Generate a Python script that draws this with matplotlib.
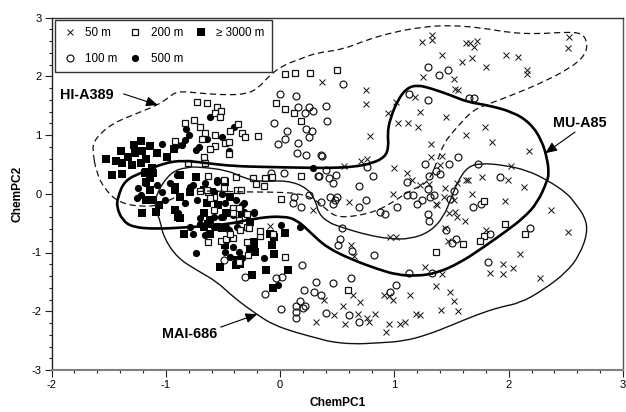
import matplotlib
matplotlib.use("Agg")
import matplotlib.pyplot as plt
from matplotlib.path import Path
from matplotlib.patches import PathPatch

plt.rcParams['font.family'] = ['Liberation Sans', 'DejaVu Sans']
plt.rcParams['axes.unicode_minus'] = False

x_50 = [2.53,2.52,1.33,1.33,1.24,1.63,1.66,1.72,1.70,1.42,1.59,1.68,1.80,1.98,2.08,2.16,2.16,1.25,1.52,1.53,1.56,0.37,0.75,0.75,1.01,1.18,0.94,1.22,1.03,1.12,1.21,1.45,0.79,1.79,1.63,1.85,1.32,2.18,1.32,1.42,0.76,0.71,0.56,1.00,1.11,1.40,2.02,1.77,1.99,2.13,1.64,1.63,1.55,1.15,1.22,1.30,0.99,0.60,1.44,1.43,1.68,1.52,1.97,1.36,1.37,2.37,
        2.52,1.48,1.53,1.55,1.62,1.44,1.80,1.47,0.96,1.01,0.62,0.65,2.10,1.95,2.04,1.27,1.42,1.84,1.95,2.27,1.36,1.49,1.52,1.56,1.41,1.14,0.99,0.91,0.95,0.64,0.70,0.55,0.38,0.47,0.68,0.76,0.83,0.78,0.57,0.31,0.95,0.93,1.05,1.09,1.19,1.22,0.29,-0.09]
y_50 = [2.66,2.48,2.70,2.61,2.59,2.56,2.57,2.60,2.49,2.36,2.24,2.31,2.16,2.36,2.32,2.11,2.04,1.99,1.95,1.78,1.77,1.90,1.76,1.53,1.57,1.65,1.38,1.39,1.20,1.21,1.13,1.30,0.99,1.14,1.00,0.875,0.85,0.73,0.63,0.65,0.60,0.55,0.48,0.43,0.36,0.49,0.47,0.29,0.23,0.11,0.23,0.24,0.19,0.23,0.15,0.16,-0.01,-0.14,0.09,-0.05,-0.01,-0.11,-0.12,-0.18,-0.19,-0.27,
        -0.65,-0.32,-0.31,-0.40,-0.46,-0.59,-0.62,-0.80,-0.74,-0.73,-0.875,-1.06,-1.02,-1.19,-1.26,-1.24,-1.36,-1.35,-1.36,-1.43,-1.57,-1.68,-1.83,-1.99,-1.98,-1.72,-1.80,-1.72,-1.74,-1.72,-1.85,-1.91,-1.80,-2.07,-2.04,-2.11,-2.04,-2.19,-2.22,-2.19,-2.22,-2.35,-2.21,-2.19,-2.04,-2.07,-0.28,-0.55]

x_100 = [0.0,0.14,0.16,0.25,0.29,0.22,-0.05,0.06,0.23,0.28,0.25,0.04,-0.02,0.16,0.15,0.23,0.36,0.03,0.33,-0.08,0.12,0.11,0.18,0.25,
         1.29,1.39,1.47,0.55,1.13,1.29,1.65,1.70,0.40,0.41,0.37,1.56,1.27,1.48,1.73,1.40,1.36,1.30,1.11,0.76,0.81,0.40,0.34,0.43,0.49,0.46,0.69,1.92,1.29,1.35,1.31,1.52,1.49,1.11,1.16,1.24,1.20,0.44,0.50,0.48,0.46,0.36,0.75,0.69,1.02,1.69,1.76,
         0.87,0.92,1.29,1.30,0.54,0.52,0.51,0.63,0.82,1.45,1.54,1.50,1.84,2.19,1.82,1.13,1.33,1.01,0.96,0.31,0.46,0.62,0.30,0.36,0.40,0.60,0.69,
         -0.49,-0.36,-0.31,-0.04,0.02,0.19,0.21,-0.13,0.17,0.14,0.20,0.22,0.01,0.14,0.14]
y_100 = [1.70,1.66,1.48,1.47,1.41,1.37,1.21,1.07,1.10,1.06,0.96,0.93,0.84,0.86,0.69,0.66,0.66,0.36,0.30,0.36,-0.05,-0.15,-0.23,-0.02,
         2.16,2.02,2.11,1.86,1.70,1.60,1.63,1.63,1.49,1.24,0.65,0.62,0.50,0.50,0.51,0.34,0.39,0.31,0.20,0.45,0.30,0.40,0.30,0.26,0.32,0.18,0.125,0.29,0.08,-0.02,-0.05,0.05,-0.09,-0.02,-0.02,-0.11,-0.18,-0.05,-0.05,-0.11,-0.18,-0.14,-0.11,-0.22,-0.22,-0.22,-0.18,
         -0.31,-0.35,-0.35,-0.46,-0.58,-0.77,-0.875,-0.98,-1.05,-0.625,-0.77,-0.83,-0.68,-0.59,-1.16,-1.35,-1.35,-1.55,-1.68,-1.51,-1.52,-1.43,-1.67,-1.73,-2.03,-2.07,-2.18,
         -1.12,-1.15,-1.41,-1.44,-1.41,-1.22,-1.64,-1.71,-1.83,-1.91,-1.94,-1.91,-1.97,-2.01,-2.11]

x_200 = [0.04,0.13,0.26,-0.73,-0.64,-0.55,-0.52,-0.57,-0.53,-0.04,0.04,0.12,0.18,-0.83,-0.75,-0.70,-0.37,-0.44,-0.33,-0.31,-0.19,-0.66,-0.68,-0.57,-0.48,-0.45,-0.57,-0.61,-0.92,-0.67,-0.45,-0.81,-0.66,-0.63,-0.49,-0.385,-0.24,-0.13,-0.21,-0.14,-0.07,0.18,-0.38,-0.34,-0.70,-0.63,-0.58,0.006,
         0.50,1.78,1.97,2.14,1.78,1.75,1.60,1.36,0.59,
         -0.64,-0.49,-0.61,-0.41,-0.36,-0.29,-0.41,-0.58,-0.36,-0.29,-0.27,-0.18,-0.18,-0.06,-0.63,-0.52,-0.47,-0.41,-0.29,0.04,-0.28,-0.36,-0.44,-0.35]
y_200 = [2.04,2.05,2.05,1.57,1.54,1.47,1.41,1.37,1.30,1.54,1.45,1.37,1.24,1.20,1.26,1.14,1.18,1.07,1.03,0.96,0.99,1.03,0.94,1.00,0.86,0.875,0.81,0.77,0.90,0.62,0.68,0.52,0.53,0.31,0.24,0.28,0.26,0.26,0.16,0.13,0.29,0.30,0.06,0.06,0.045,0.03,-0.05,-0.085,
         2.10,-0.125,-0.52,-0.69,-0.72,-0.81,-0.85,-0.99,-1.63,
         0.06,0.09,-0.08,-0.25,-0.25,-0.35,-0.335,-0.27,-0.45,-0.56,-0.59,-0.72,-0.64,-0.68,-0.82,-0.80,-0.77,-0.76,-0.82,-1.07,-1.05,-1.16,-0.68,-0.62]

x_500 = [-0.61,-0.82,-0.80,-0.83,-0.71,-0.74,-0.64,-0.51,-0.40,-0.45,0.29,-0.86,-0.90,-1.03,
         -0.74,0.006,-0.14,0.17,-0.76,-0.48,-0.23,-0.32,-0.02,
         -1.24,-1.25,-1.22,-1.18,-1.08,-1.035,-1.01,-0.96,-0.90,-0.83,-0.76,-0.73,-0.66,-0.55,-0.51,-0.48,-0.58,-0.50,-0.41,-0.32,-0.23,-0.38,-0.47,-0.70,-0.79,-0.66,
         -0.55,-0.79,-0.58,-0.39,-0.335,-0.52,-0.70,-0.89,-0.58,-0.45,-0.41,-0.36,-0.44,-0.33,-0.26]
y_500 = [1.30,1.11,1.00,0.91,0.80,0.74,0.94,0.97,1.13,0.72,0.43,0.83,0.83,0.85,
         -1.00,-0.53,-1.10,-0.56,-0.68,-0.99,-0.31,-0.165,-1.56,
         0.09,-0.08,-0.02,0.18,0.15,0.03,-0.11,0.18,0.32,-0.16,0.15,-0.11,0.18,0.20,0.0,-0.16,-0.39,-0.39,-0.36,-0.31,-0.335,-0.56,-0.56,-0.51,-0.56,-0.70,
         0.23,0.12,0.03,-0.11,-0.19,-0.39,-0.42,-0.335,-0.56,-0.62,-0.90,-0.99,-1.07,-1.10,-0.48]

x_3000 = [-1.52,-1.44,-1.385,-1.47,-1.385,-1.39,-1.33,-1.28,-1.22,-1.14,-1.22,-1.30,-1.27,-1.21,-1.17,-1.12,-1.18,-1.17,-1.08,-0.99,-0.93,
          -0.84,-0.07,-0.05,0.04,-0.09,-0.05,-0.53,-0.25,-0.12,0.07,-0.23,-0.22,-0.38,-0.35,-0.06,
          -1.14,-1.11,-1.17,-1.14,-1.11,-1.17,-1.06,-1.09,-0.875,-0.89,-0.92,-0.79,-0.64,-0.60,-0.54,-0.67,-0.63,-0.55,-0.44,-0.74,-0.92,-1.21,
          -0.875,-0.92,-0.67,-0.48,-0.47,-0.61,-0.875,-0.67,-0.51,-0.61,-0.48,-0.39,-0.26,-0.23,-0.335,-0.26]
y_3000 = [0.585,0.56,0.52,0.32,0.335,0.72,0.63,0.83,0.89,0.82,0.52,0.49,0.69,0.72,0.60,0.43,0.35,0.20,0.69,0.63,0.77,
          -0.68,-0.875,-1.03,-0.66,-0.68,-0.73,-1.24,-1.39,-1.29,-1.29,-0.90,-0.99,-1.13,-1.19,-1.60,
          0.26,0.35,0.375,0.06,-0.11,-0.11,-0.19,-0.31,-0.05,-0.39,-0.28,0.03,-0.16,0.03,-0.19,-0.335,-0.51,-0.56,-0.05,0.29,0.06,-0.32,
          0.32,0.12,0.06,0.20,-0.335,-0.45,-0.42,-0.56,-0.59,-0.68,-0.875,-1.22,-0.96,-0.82,-0.335,-0.48]

hi_x = [-1.64,-1.63,-1.57,-1.46,-1.29,-1.07,-0.98,-0.90,-0.70,-0.46,-0.29,-0.19,-0.09,0.03,0.17,0.32,0.54,0.76,0.99,1.25,1.49,1.78,2.01,2.25,2.48,2.64,2.69,2.67,2.54,2.30,2.07,1.84,1.69,1.55,1.43,1.37,1.29,1.14,0.99,0.85,0.67,0.50,0.41,0.32,0.17,-0.09,-0.35,-0.79,-1.05,-1.20,-1.40,-1.53,-1.61]
hi_y = [0.745,0.88,1.03,1.20,1.34,1.51,1.63,1.75,1.71,1.68,1.70,1.80,2.02,2.19,2.29,2.40,2.45,2.62,2.75,2.84,2.87,2.82,2.74,2.72,2.75,2.74,2.57,2.36,2.14,1.90,1.71,1.54,1.43,1.14,0.86,0.52,0.18,0.06,-0.14,-0.29,-0.38,-0.40,-0.28,-0.11,0.01,0.03,0.03,0.06,-0.19,-0.225,-0.16,0.06,0.37]
mu_x = [-1.43,-1.38,-1.29,-1.08,-0.81,-0.48,-0.20,0.03,0.15,0.26,0.41,0.64,0.85,1.02,1.20,1.37,1.57,1.78,1.99,2.13,2.25,2.34,2.35,2.34,2.29,2.19,2.04,1.81,1.64,1.49,1.31,1.20,1.11,1.03,0.96,0.94,0.95,0.92,0.81,0.64,0.44,0.29,-0.11,-0.41,-0.64,-0.85,-1.02,-1.20,-1.36,-1.42]
mu_y = [-0.225,-0.45,-0.57,-0.60,-0.57,-0.53,-0.41,-0.38,-0.45,-0.65,-0.92,-1.13,-1.28,-1.38,-1.40,-1.35,-1.18,-0.91,-0.62,-0.41,-0.16,0.23,0.35,0.57,0.91,1.20,1.39,1.51,1.56,1.68,1.80,1.85,1.80,1.60,1.26,1.03,0.80,0.63,0.52,0.455,0.44,0.44,0.455,0.47,0.52,0.57,0.52,0.37,0.23,-0.06]
mai_x = [-1.05,-1.02,-0.90,-0.73,-0.55,-0.41,-0.20,-0.06,0.15,0.35,0.44,0.64,0.85,1.08,1.29,1.51,1.72,1.92,2.10,2.30,2.51,2.62,2.69,2.67,2.58,2.51,2.34,2.16,1.95,1.75,1.64,1.56,1.50,1.43,1.31,1.14,0.96,0.76,0.55,0.41,0.33,0.32,0.24,0.06,-0.175,-0.32,-0.46,-0.70,-0.81,-0.96,-1.09,-1.09]
mai_y = [-0.45,-0.74,-1.09,-1.30,-1.50,-1.76,-2.06,-2.23,-2.37,-2.47,-2.52,-2.56,-2.54,-2.51,-2.40,-2.23,-2.06,-1.93,-1.86,-1.64,-1.33,-1.04,-0.67,-0.40,-0.16,0.01,0.23,0.40,0.49,0.52,0.455,0.23,-0.055,-0.40,-0.65,-0.77,-0.77,-0.70,-0.58,-0.48,-0.31,-0.16,0.10,0.23,0.20,0.27,0.40,0.455,0.455,0.37,-0.02,-0.28]

labels = ['50 m', '100 m', '200 m', '500 m', '\u2265 3000 m']
x_ticks = [-2, -1, 0, 1, 2, 3]
y_ticks = [-3, -2, -1, 0, 1, 2, 3]


def closed_curve(xs, ys):
    """Closed quadratic Bezier path using the read points as control points."""
    pts = list(zip(xs, ys))
    n = len(pts)
    mid = lambda a, b: ((a[0] + b[0]) / 2, (a[1] + b[1]) / 2)
    verts = [mid(pts[-1], pts[0])]
    codes = [Path.MOVETO]
    for i in range(n):
        verts += [pts[i], mid(pts[i], pts[(i + 1) % n])]
        codes += [Path.CURVE3, Path.CURVE3]
    return Path(verts, codes)


fig = plt.figure(figsize=(6.26, 4.12), dpi=100)
ax = fig.add_axes([51.5 / 626, 1 - 370 / 412, (623 - 51.5) / 626, (370 - 17.5) / 412])

ax.plot(x_50, y_50, 'x', ms=5, mew=0.7, color='#111111', zorder=3, label=labels[0])
ax.plot(x_100, y_100, 'o', ms=5, mew=0.85, mfc='none', color='#111111', zorder=3, label=labels[1])
ax.plot(x_500, y_500, 'o', ms=5.2, mew=0, color='black', zorder=4, label=labels[3])
ax.plot(x_3000, y_3000, 's', ms=5.4, mew=0, color='black', zorder=4, label=labels[4])
ax.plot(x_200, y_200, 's', ms=4.4, mew=0.9, mfc='white', color='#111111', zorder=5, label=labels[2])

ax.add_patch(PathPatch(closed_curve(hi_x, hi_y), fill=False, ec='#111111', lw=0.9, ls=(0, (5, 3)), zorder=6))
ax.add_patch(PathPatch(closed_curve(mu_x, mu_y), fill=False, ec='black', lw=1.9, zorder=6))
ax.add_patch(PathPatch(closed_curve(mai_x, mai_y), fill=False, ec='#111111', lw=1.0, zorder=6))

arrow = dict(arrowstyle='-|>,head_length=0.7,head_width=0.3', color='black', lw=0.8,
             shrinkA=0, shrinkB=0, mutation_scale=10)
ax.annotate('', xy=(-1.07, 1.51), xytext=(-1.37, 1.70), arrowprops=arrow, zorder=7)
ax.annotate('', xy=(2.32, 0.69), xytext=(2.58, 1.05), arrowprops=arrow, zorder=7)
ax.annotate('', xy=(-0.20, -2.05), xytext=(-0.52, -2.27), arrowprops=arrow, zorder=7)
for tx, ty, s in [(-1.925, 1.68, 'HI-A389'), (2.39, 1.20, 'MU-A85'), (-1.03, -2.39, 'MAI-686')]:
    ax.text(tx, ty, s, fontsize=10.4, fontweight='bold', ha='left', va='center', zorder=8)

ax.set_xlim(-2, 3)
ax.set_ylim(-3, 3)
ax.set_xticks(x_ticks)
ax.set_yticks(y_ticks)
ax.set_xticks([v / 5 for v in range(-10, 16)], minor=True)
ax.set_yticks([v / 5 for v in range(-15, 16)], minor=True)
ax.tick_params(which='major', direction='out', length=5, width=0.8, labelsize=8, pad=2, color='#222222')
ax.tick_params(which='minor', direction='out', length=2.2, width=0.8, color='#222222')
ax.spines['left'].set(color='#222222', lw=1.0)
ax.spines['bottom'].set(color='#808080', lw=1.5)
ax.spines['top'].set(color='#333333', lw=1.0)
ax.spines['right'].set(color='#555555', lw=1.0)
ax.set_xlabel('ChemPC1', fontsize=8.6, fontweight='bold', labelpad=5)
ax.set_ylabel('ChemPC2', fontsize=8.6, fontweight='bold', labelpad=6)

h, l = ax.get_legend_handles_labels()
order = [l.index(s) for s in ['50 m', '100 m', '200 m', '500 m', '\u2265 3000 m']]
leg = ax.legend([h[i] for i in order], [l[i] for i in order], ncol=3,
                loc='upper left', bbox_to_anchor=((55 - 51.5) / 571.5, 1 - 2 / 352.5),
                borderaxespad=0, fontsize=8.4, frameon=True, fancybox=False,
                framealpha=1, edgecolor='#333333', borderpad=0.62, labelspacing=1.2,
                handlelength=1.3, handletextpad=0.68, columnspacing=0.85)
leg.get_frame().set_linewidth(1.0)
leg.set_zorder(9)

fig.savefig('out.png', dpi=100)
